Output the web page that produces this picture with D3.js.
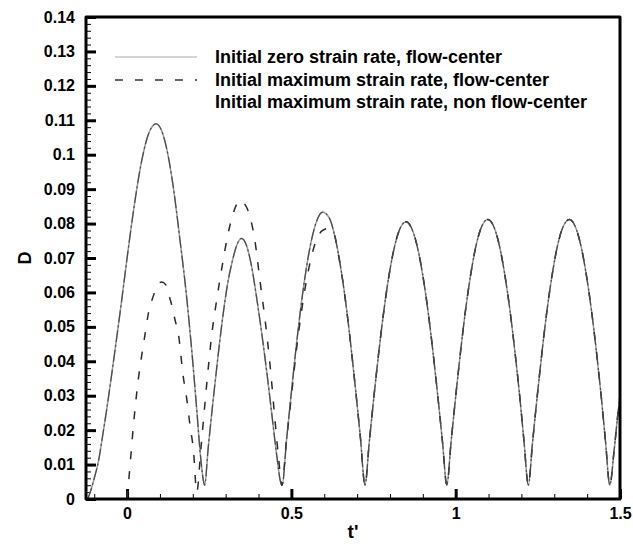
<!DOCTYPE html>
<html>
<head>
<meta charset="utf-8">
<script src="https://cdn.jsdelivr.net/npm/d3@7"></script>
<style>
  body { margin: 0; background: #fff; }
  text { font-family: "Liberation Sans", Arial, sans-serif; font-weight: bold; fill: #000; }
</style>
</head>
<body>
<div id="chart"></div>
<script>
// ---- data ----
const seriesNames = [
  'Initial zero strain rate, flow-center',
  'Initial maximum strain rate, flow-center',
  'Initial maximum strain rate, non flow-center'
];

// zero strain rate, flow-center (solid)
const zeroT = [-0.12, -0.112, -0.1, -0.087, -0.075, -0.062, -0.05, -0.037, -0.016, 0, 0.02, 0.04, 0.06, 0.075, 0.088,
  0.105, 0.12, 0.14, 0.16, 0.182, 0.197, 0.212, 0.222, 0.232, 0.236,
  0.247, 0.26, 0.275, 0.29, 0.305, 0.32, 0.335, 0.348, 0.362, 0.378, 0.395, 0.41, 0.425, 0.44, 0.455, 0.467, 0.472,
  0.485, 0.5, 0.515, 0.53, 0.545, 0.56, 0.575, 0.595, 0.615, 0.635, 0.655, 0.675, 0.695, 0.71, 0.724,
  0.737, 0.752, 0.767, 0.782, 0.797, 0.812, 0.827, 0.849, 0.871, 0.886, 0.901, 0.916, 0.931, 0.946, 0.96, 0.973,
  0.986, 1.001, 1.016, 1.031, 1.046, 1.061, 1.076, 1.098, 1.12, 1.135, 1.15, 1.165, 1.18, 1.195, 1.208, 1.221,
  1.234, 1.249, 1.264, 1.279, 1.294, 1.309, 1.324, 1.346, 1.368, 1.383, 1.398, 1.413, 1.428, 1.443, 1.456, 1.469,
  1.482, 1.495, 1.5];
const zeroD = [0, 0.002, 0.006, 0.011, 0.018, 0.026, 0.034, 0.043, 0.058, 0.07, 0.084, 0.096, 0.1045, 0.108, 0.109,
  0.107, 0.102, 0.091, 0.076, 0.058, 0.043, 0.026, 0.014, 0.0055, 0.004,
  0.015, 0.027, 0.04, 0.052, 0.062, 0.069, 0.074, 0.0757, 0.074, 0.068, 0.058, 0.048, 0.037, 0.025, 0.013, 0.005, 0.004,
  0.0168, 0.031, 0.0446, 0.0566, 0.0667, 0.0747, 0.0802, 0.0833, 0.0817, 0.0751, 0.0642, 0.0496, 0.0321, 0.0179, 0.004,
  0.0165, 0.0305, 0.0435, 0.0551, 0.0649, 0.0725, 0.0777, 0.0805, 0.0774, 0.0721, 0.0643, 0.0544, 0.0426, 0.0295, 0.0164, 0.004,
  0.0166, 0.0307, 0.0438, 0.0556, 0.0654, 0.0732, 0.0784, 0.0812, 0.0781, 0.0727, 0.0648, 0.0549, 0.043, 0.0297, 0.0166, 0.004,
  0.0166, 0.0307, 0.0438, 0.0556, 0.0654, 0.0732, 0.0784, 0.0812, 0.0781, 0.0727, 0.0648, 0.0549, 0.043, 0.0297, 0.0166, 0.004,
  0.014, 0.026, 0.03];

// maximum strain rate, flow-center (dashed)
const maxT = [0, 0.007, 0.019, 0.034, 0.045, 0.055, 0.065, 0.08, 0.093, 0.105, 0.118, 0.128, 0.136, 0.146, 0.156, 0.171, 0.182, 0.192, 0.202, 0.212,
  0.225, 0.242, 0.258, 0.273, 0.29, 0.305, 0.32, 0.333, 0.344, 0.357, 0.374, 0.389, 0.405, 0.42, 0.435, 0.45, 0.461, 0.471,
  0.485, 0.5, 0.515, 0.53, 0.545, 0.56, 0.577, 0.595, 0.612, 0.628, 0.645, 0.655, 0.675, 0.695, 0.71, 0.724,
  0.737, 0.752, 0.767, 0.782, 0.797, 0.812, 0.827, 0.849, 0.871, 0.886, 0.901, 0.916, 0.931, 0.946, 0.96, 0.973,
  0.986, 1.001, 1.016, 1.031, 1.046, 1.061, 1.076, 1.098, 1.12, 1.135, 1.15, 1.165, 1.18, 1.195, 1.208, 1.221,
  1.234, 1.249, 1.264, 1.279, 1.294, 1.309, 1.324, 1.346, 1.368, 1.383, 1.398, 1.413, 1.428, 1.443, 1.456, 1.469,
  1.482, 1.495, 1.5];
const maxD = [0, 0.0075, 0.021, 0.0346, 0.042, 0.048, 0.054, 0.059, 0.0622, 0.063, 0.0622, 0.059, 0.0563, 0.052, 0.048, 0.0355, 0.0288, 0.021, 0.0142, 0.002,
  0.015, 0.033, 0.048, 0.058, 0.068, 0.076, 0.082, 0.0855, 0.0868, 0.0858, 0.082, 0.075, 0.063, 0.052, 0.039, 0.023, 0.012, 0.004,
  0.017, 0.03, 0.043, 0.054, 0.063, 0.07, 0.0755, 0.078, 0.0786, 0.0775, 0.07, 0.0642, 0.0496, 0.0321, 0.0179, 0.004,
  0.0165, 0.0305, 0.0435, 0.0551, 0.0649, 0.0725, 0.0777, 0.0805, 0.0774, 0.0721, 0.0643, 0.0544, 0.0426, 0.0295, 0.0164, 0.004,
  0.0166, 0.0307, 0.0438, 0.0556, 0.0654, 0.0732, 0.0784, 0.0812, 0.0781, 0.0727, 0.0648, 0.0549, 0.043, 0.0297, 0.0166, 0.004,
  0.0166, 0.0307, 0.0438, 0.0556, 0.0654, 0.0732, 0.0784, 0.0812, 0.0781, 0.0727, 0.0648, 0.0549, 0.043, 0.0297, 0.0166, 0.004,
  0.014, 0.026, 0.03];

// maximum strain rate, non flow-center (dash-dot) - lies on top of the solid curve
const nonCenterT = zeroT;
const nonCenterD = [0, 0.002, 0.006, 0.011, 0.018, 0.026, 0.034, 0.043, 0.058, 0.07, 0.084, 0.096, 0.1045, 0.108, 0.109,
  0.107, 0.102, 0.091, 0.076, 0.058, 0.043, 0.026, 0.014, 0.0055, 0.004,
  0.015, 0.027, 0.04, 0.052, 0.062, 0.069, 0.074, 0.0757, 0.074, 0.068, 0.058, 0.048, 0.037, 0.025, 0.013, 0.005, 0.004,
  0.0168, 0.031, 0.0446, 0.0566, 0.0667, 0.0747, 0.0802, 0.0833, 0.0817, 0.0751, 0.0642, 0.0496, 0.0321, 0.0179, 0.004,
  0.0165, 0.0305, 0.0435, 0.0551, 0.0649, 0.0725, 0.0777, 0.0805, 0.0774, 0.0721, 0.0643, 0.0544, 0.0426, 0.0295, 0.0164, 0.004,
  0.0166, 0.0307, 0.0438, 0.0556, 0.0654, 0.0732, 0.0784, 0.0812, 0.0781, 0.0727, 0.0648, 0.0549, 0.043, 0.0297, 0.0166, 0.004,
  0.0166, 0.0307, 0.0438, 0.0556, 0.0654, 0.0732, 0.0784, 0.0812, 0.0781, 0.0727, 0.0648, 0.0549, 0.043, 0.0297, 0.0166, 0.004,
  0.014, 0.026, 0.03];

const xTicks = [0, 0.5, 1, 1.5];
const yTicks = [0, 0.01, 0.02, 0.03, 0.04, 0.05, 0.06, 0.07, 0.08, 0.09, 0.1, 0.11, 0.12, 0.13, 0.14];

// ---- layout ----
const width = 633, height = 546;
const margin = { top: 17, right: 13, bottom: 47, left: 86 };
const innerW = width - margin.left - margin.right;
const innerH = height - margin.top - margin.bottom;

const svg = d3.select('#chart').append('svg')
  .attr('width', width)
  .attr('height', height);

const g = svg.append('g')
  .attr('transform', `translate(${margin.left},${margin.top})`);

const x = d3.scaleLinear().domain([-0.125, 1.5]).range([0, innerW]);
const y = d3.scaleLinear().domain([0, 0.14]).range([innerH, 0]);

// clip for curves
g.append('defs').append('clipPath')
  .attr('id', 'plot-clip')
  .append('rect')
  .attr('width', innerW)
  .attr('height', innerH);

// minor ticks
g.append('g')
  .attr('class', 'minor')
  .call(d3.axisLeft(y).tickValues(d3.range(0, 0.1401, 0.002)).tickSize(-5).tickFormat(''))
  .call(a => a.select('.domain').remove())
  .call(a => a.selectAll('line').attr('stroke', '#000').attr('stroke-width', 1));

g.append('g')
  .attr('transform', `translate(0,${innerH})`)
  .call(d3.axisBottom(x).tickValues(d3.range(-0.1, 1.501, 0.1)).tickSize(-5).tickFormat(''))
  .call(a => a.select('.domain').remove())
  .call(a => a.selectAll('line').attr('stroke', '#000').attr('stroke-width', 1));

// major ticks + labels
g.append('g')
  .call(d3.axisLeft(y).tickValues(yTicks).tickSize(-10).tickPadding(11)
    .tickFormat(d => String(+d.toFixed(2))))
  .call(a => a.select('.domain').remove())
  .call(a => a.selectAll('line').attr('stroke', '#000').attr('stroke-width', 3))
  .call(a => a.selectAll('text').style('font-size', '16px').attr('font-family', null));

g.append('g')
  .attr('transform', `translate(0,${innerH})`)
  .call(d3.axisBottom(x).tickValues(xTicks).tickSize(-10).tickPadding(9)
    .tickFormat(d => String(d)))
  .call(a => a.select('.domain').remove())
  .call(a => a.selectAll('line').attr('stroke', '#000').attr('stroke-width', 3))
  .call(a => a.selectAll('text').style('font-size', '16px').attr('font-family', null));

// curves
const line = d3.line()
  .x(d => x(d[0]))
  .y(d => y(d[1]))
  .curve(d3.curveMonotoneX);

const curves = g.append('g').attr('clip-path', 'url(#plot-clip)');

const styles = [
  { stroke: '#999', width: 1.5, dash: null },
  { stroke: '#2a2a2a', width: 1.5, dash: '8,12' },
  { stroke: '#4a4a4a', width: 1.2, dash: '12,3,2,3' }
];

const series = [
  zeroT.map((t, i) => [t, zeroD[i]]),
  maxT.map((t, i) => [t, maxD[i]]),
  nonCenterT.map((t, i) => [t, nonCenterD[i]])
];

series.forEach((s, i) => {
  curves.append('path')
    .datum(s)
    .attr('fill', 'none')
    .attr('stroke', styles[i].stroke)
    .attr('stroke-width', styles[i].width)
    .attr('stroke-dasharray', styles[i].dash)
    .attr('d', line);
});

// frame
g.append('rect')
  .attr('width', innerW)
  .attr('height', innerH)
  .attr('fill', 'none')
  .attr('stroke', '#000')
  .attr('stroke-width', 3)
  .attr('stroke-linejoin', 'round');

// legend
const legend = svg.append('g');
const rowY = [57, 80, 102];
seriesNames.forEach((name, i) => {
  if (i < 2) {
    legend.append('line')
      .attr('x1', 115).attr('x2', 197)
      .attr('y1', rowY[i]).attr('y2', rowY[i])
      .attr('stroke', i === 0 ? '#c4c4c4' : '#333')
      .attr('stroke-width', 1.3)
      .attr('stroke-dasharray', i === 0 ? null : '8,12');
  }
  legend.append('text')
    .attr('x', 215)
    .attr('y', rowY[i])
    .attr('dy', '0.35em')
    .style('font-size', '18px')
    .text(name);
});

// axis titles
svg.append('text')
  .attr('x', margin.left + innerW / 2)
  .attr('y', 538)
  .attr('text-anchor', 'middle')
  .style('font-size', '19px')
  .text("t'");

svg.append('text')
  .attr('transform', `translate(31,${margin.top + innerH / 2}) rotate(-90)`)
  .attr('text-anchor', 'middle')
  .style('font-size', '18px')
  .text('D');
</script>
</body>
</html>
